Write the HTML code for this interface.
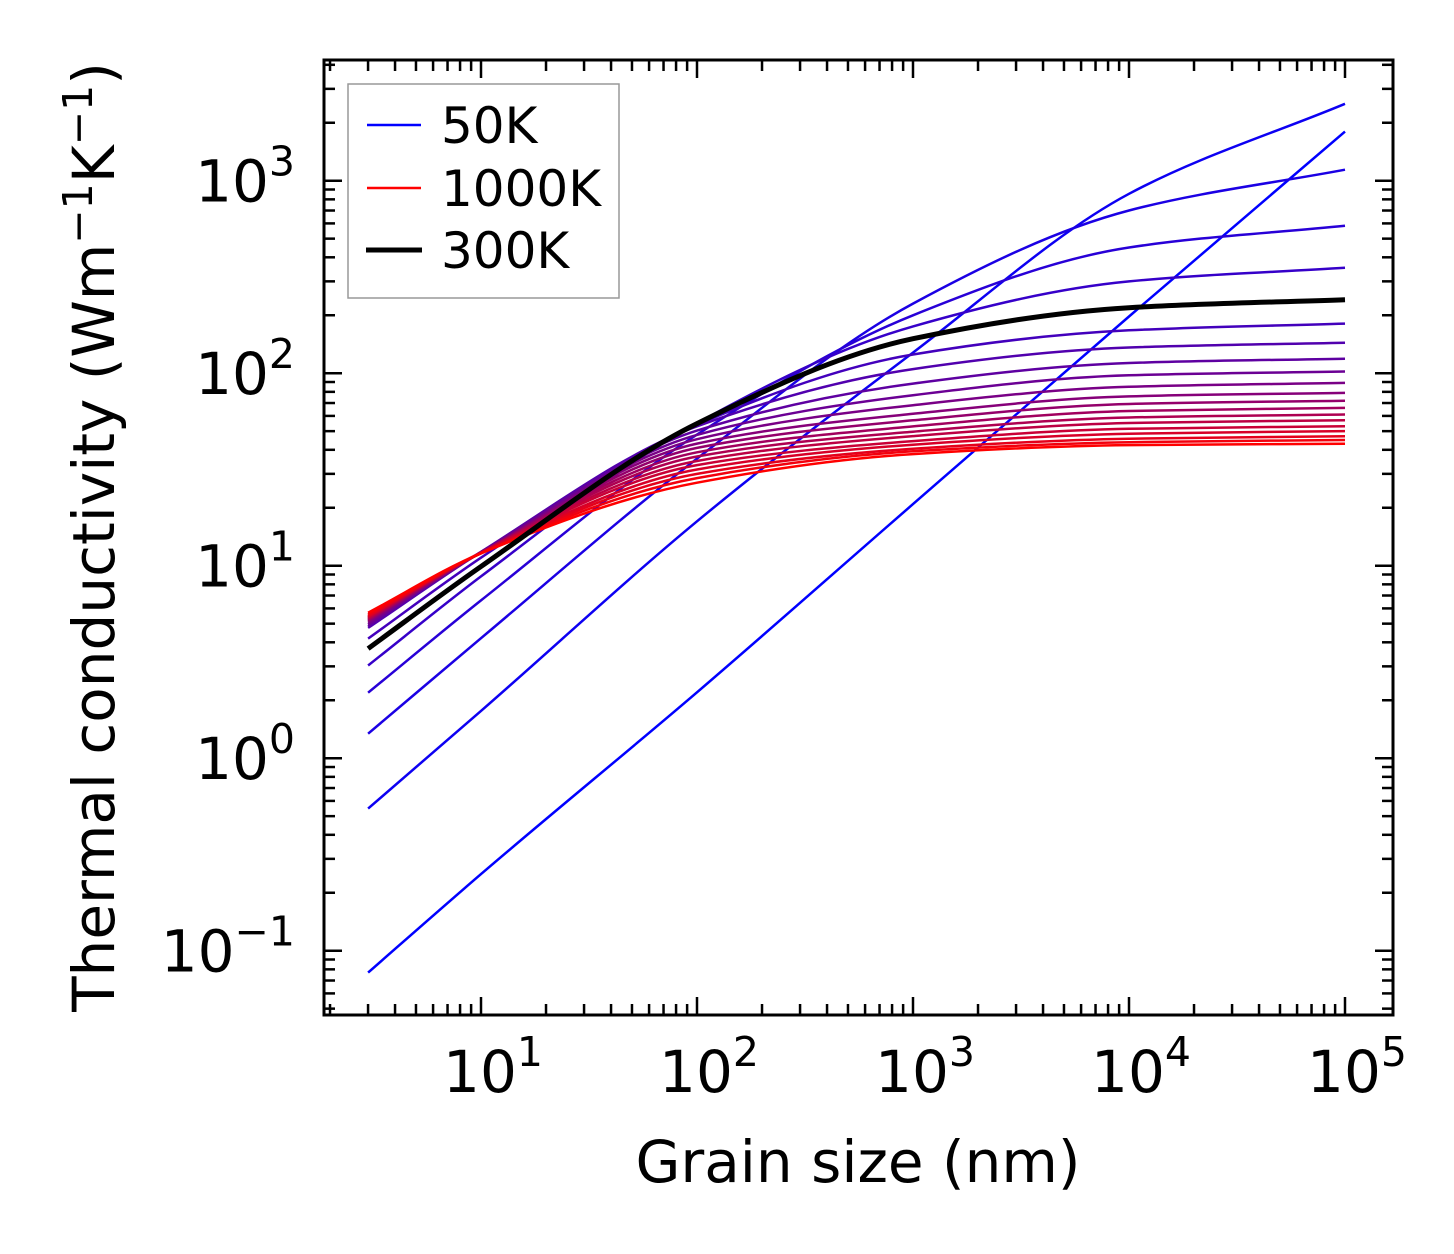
<!DOCTYPE html>
<html><head><meta charset="utf-8"><style>
html,body{margin:0;padding:0;background:#fff;}
svg{display:block;font-family:"DejaVu Sans","Liberation Sans",sans-serif;}
</style></head><body>
<svg id="chart" width="1454" height="1254" viewBox="0 0 1454 1254" xmlns="http://www.w3.org/2000/svg">
<rect x="0" y="0" width="1454" height="1254" fill="#fff"/>
<g id="curves"></g>
<g id="ticks"></g>
<rect x="324" y="60" width="1069" height="955" fill="none" stroke="#000" stroke-width="3"/>
<g id="labels" font-size="58" fill="#000"></g>
<text x="858" y="1182" font-size="58" text-anchor="middle">Grain size (nm)</text>
<text transform="translate(114,537) rotate(-90)" font-size="58" text-anchor="middle">Thermal conductivity (Wm<tspan dy="-22" font-size="41">−1</tspan><tspan dy="22">K</tspan><tspan dy="-22" font-size="41">−1</tspan><tspan dy="22">)</tspan></text>
<g>
<rect x="348" y="84" width="271" height="214" fill="#fff" stroke="#999" stroke-width="1.5"/>
<line x1="367" y1="125" x2="421" y2="125" stroke="#0000ff" stroke-width="2.5"/>
<text x="441" y="143" font-size="50">50K</text>
<line x1="367" y1="188" x2="421" y2="188" stroke="#ff0000" stroke-width="2.5"/>
<text x="441" y="206" font-size="50">1000K</text>
<line x1="366" y1="250" x2="422" y2="250" stroke="#000" stroke-width="5"/>
<text x="441" y="268" font-size="50">300K</text>
</g>
</svg>
<script>
const grainSizes = [3, 10, 100, 1000, 10000, 100000];
const k50 = [0.077, 0.25, 2.2, 20.9, 197, 1800];
const k100 = [0.547, 1.76, 17, 128, 855, 2510];
const k150 = [1.34, 4.2, 36, 230, 700, 1140];
const k200 = [2.19, 6.6, 48, 200, 450, 583];
const k250 = [3.03, 8.8, 55, 175, 300, 353];
const kMid = [4.18, 11, 54, 125, 167, 181];
const c1 = [4.75, 11.8, 53, 105, 136, 144];
const c2 = [4.85, 11.8, 50.3, 88.3, 113, 119];
const c3 = [4.95, 11.8, 47.8, 76.9, 97.5, 102];
const c4 = [5.05, 11.7, 45.4, 68.2, 85, 89];
const c5 = [5.15, 11.7, 43.1, 61.5, 75.8, 79];
const c6 = [5.2, 11.7, 40.9, 56.9, 69.2, 72];
const c7 = [5.25, 11.7, 38.8, 52.9, 63.6, 66];
const c8 = [5.3, 11.7, 36.9, 49.7, 58.9, 61];
const c9 = [5.35, 11.7, 35.0, 47.1, 55.1, 57];
const c10 = [5.4, 11.7, 33.3, 44.4, 51.4, 53];
const c11 = [5.45, 11.6, 31.6, 42.5, 48.5, 50];
const c12 = [5.5, 11.6, 30.0, 40.5, 45.7, 47];
const c13 = [5.6, 11.6, 28.5, 39.3, 43.8, 45];
const c14 = [5.7, 11.6, 27, 38.0, 42.3, 43];
const k300 = [3.71, 9.9, 54.7, 151, 219, 241];
const coloredSeries = [k50,k100,k150,k200,k250,kMid,c1,c2,c3,c4,c5,c6,c7,c8,c9,c10,c11,c12,c13,c14];
const xTickLabels = ["1","2","3","4","5"];
const yTickLabels = ["−1","0","1","2","3"];

const NS = "http://www.w3.org/2000/svg";
const X0 = 481, XD = 216, Y3 = 180.7, YD = 192.5;
function xs(v){ return X0 + (Math.log10(v) - 1) * XD; }
function ys(v){ return Y3 + (3 - Math.log10(v)) * YD; }
function pathFor(vals){
  const X = grainSizes.map(g=>Math.log10(g)), Y = vals.map(v=>Math.log10(v));
  const n = X.length, h=[], dl=[];
  for (let i=0;i<n-1;i++){ h.push(X[i+1]-X[i]); dl.push((Y[i+1]-Y[i])/h[i]); }
  const m = new Array(n);
  m[0]=dl[0]; m[n-1]=dl[n-2];
  for (let i=1;i<n-1;i++){
    if (dl[i-1]*dl[i]<=0) m[i]=0;
    else { const w1=2*h[i]+h[i-1], w2=h[i]+2*h[i-1]; m[i]=(w1+w2)/(w1/dl[i-1]+w2/dl[i]); }
  }
  let d="";
  for (let i=0;i<n-1;i++){
    const x0=X[i], x1=X[i+1], hh=h[i];
    const P0=[xs(Math.pow(10,x0)), ys(Math.pow(10,Y[i]))];
    const P3=[xs(Math.pow(10,x1)), ys(Math.pow(10,Y[i+1]))];
    const c1=[xs(Math.pow(10,x0+hh/3)), ys(Math.pow(10,Y[i]+m[i]*hh/3))];
    const c2=[xs(Math.pow(10,x1-hh/3)), ys(Math.pow(10,Y[i+1]-m[i+1]*hh/3))];
    if (i===0) d+="M"+P0[0].toFixed(1)+","+P0[1].toFixed(1);
    d+=" C"+c1[0].toFixed(1)+","+c1[1].toFixed(1)+" "+c2[0].toFixed(1)+","+c2[1].toFixed(1)+" "+P3[0].toFixed(1)+","+P3[1].toFixed(1);
  }
  return d;
}
const cg = document.getElementById("curves");
coloredSeries.forEach((s,i)=>{
  const t = i/(coloredSeries.length-1);
  const el = document.createElementNS(NS,"path");
  el.setAttribute("d", pathFor(s));
  el.setAttribute("fill","none");
  el.setAttribute("stroke","rgb("+Math.round(255*t)+",0,"+Math.round(255*(1-t))+")");
  el.setAttribute("stroke-width","2.5");
  
  
  cg.appendChild(el);
});
const bl = document.createElementNS(NS,"path");
bl.setAttribute("d", pathFor(k300));
bl.setAttribute("fill","none");
bl.setAttribute("stroke","#000");
bl.setAttribute("stroke-width","5");


cg.appendChild(bl);

const tg = document.getElementById("ticks");
function tick(x1,y1,x2,y2){
  const l=document.createElementNS(NS,"line");
  l.setAttribute("x1",x1);l.setAttribute("y1",y1);l.setAttribute("x2",x2);l.setAttribute("y2",y2);
  l.setAttribute("stroke","#000");l.setAttribute("stroke-width","2.5");
  
  
  tg.appendChild(l);
}
const L=324,R=1393,T=60,B=1015;
for (let e=0;e<=5;e++){
  for (let m=1;m<=9;m++){
    const x = xs(m*Math.pow(10,e));
    if (x<L+2||x>R-2) continue;
    const len = m===1?18:11;
    tick(x,B,x,B-len); tick(x,T,x,T+len);
  }
}
for (let e=-2;e<=3;e++){
  for (let m=1;m<=9;m++){
    const y = ys(m*Math.pow(10,e));
    if (y<T+2||y>B-2) continue;
    const len = m===1?18:11;
    tick(L,y,L+len,y); tick(R,y,R-len,y);
  }
}
const lg = document.getElementById("labels");
xTickLabels.forEach((lab,i)=>{
  const t=document.createElementNS(NS,"text");
  t.setAttribute("x", xs(Math.pow(10,i+1))+12);
  t.setAttribute("y", 1092);
  t.setAttribute("text-anchor","middle");
  t.innerHTML = '10<tspan dy="-26" font-size="41">'+lab+'</tspan>';
  
  
  lg.appendChild(t);
});
yTickLabels.forEach((lab,i)=>{
  const t=document.createElementNS(NS,"text");
  t.setAttribute("x", 295);
  t.setAttribute("y", ys(Math.pow(10,i-1))+21);
  t.setAttribute("text-anchor","end");
  t.innerHTML = '10<tspan dy="-26" font-size="41">'+lab+'</tspan>';
  
  
  lg.appendChild(t);
});
</script>
</body></html>
